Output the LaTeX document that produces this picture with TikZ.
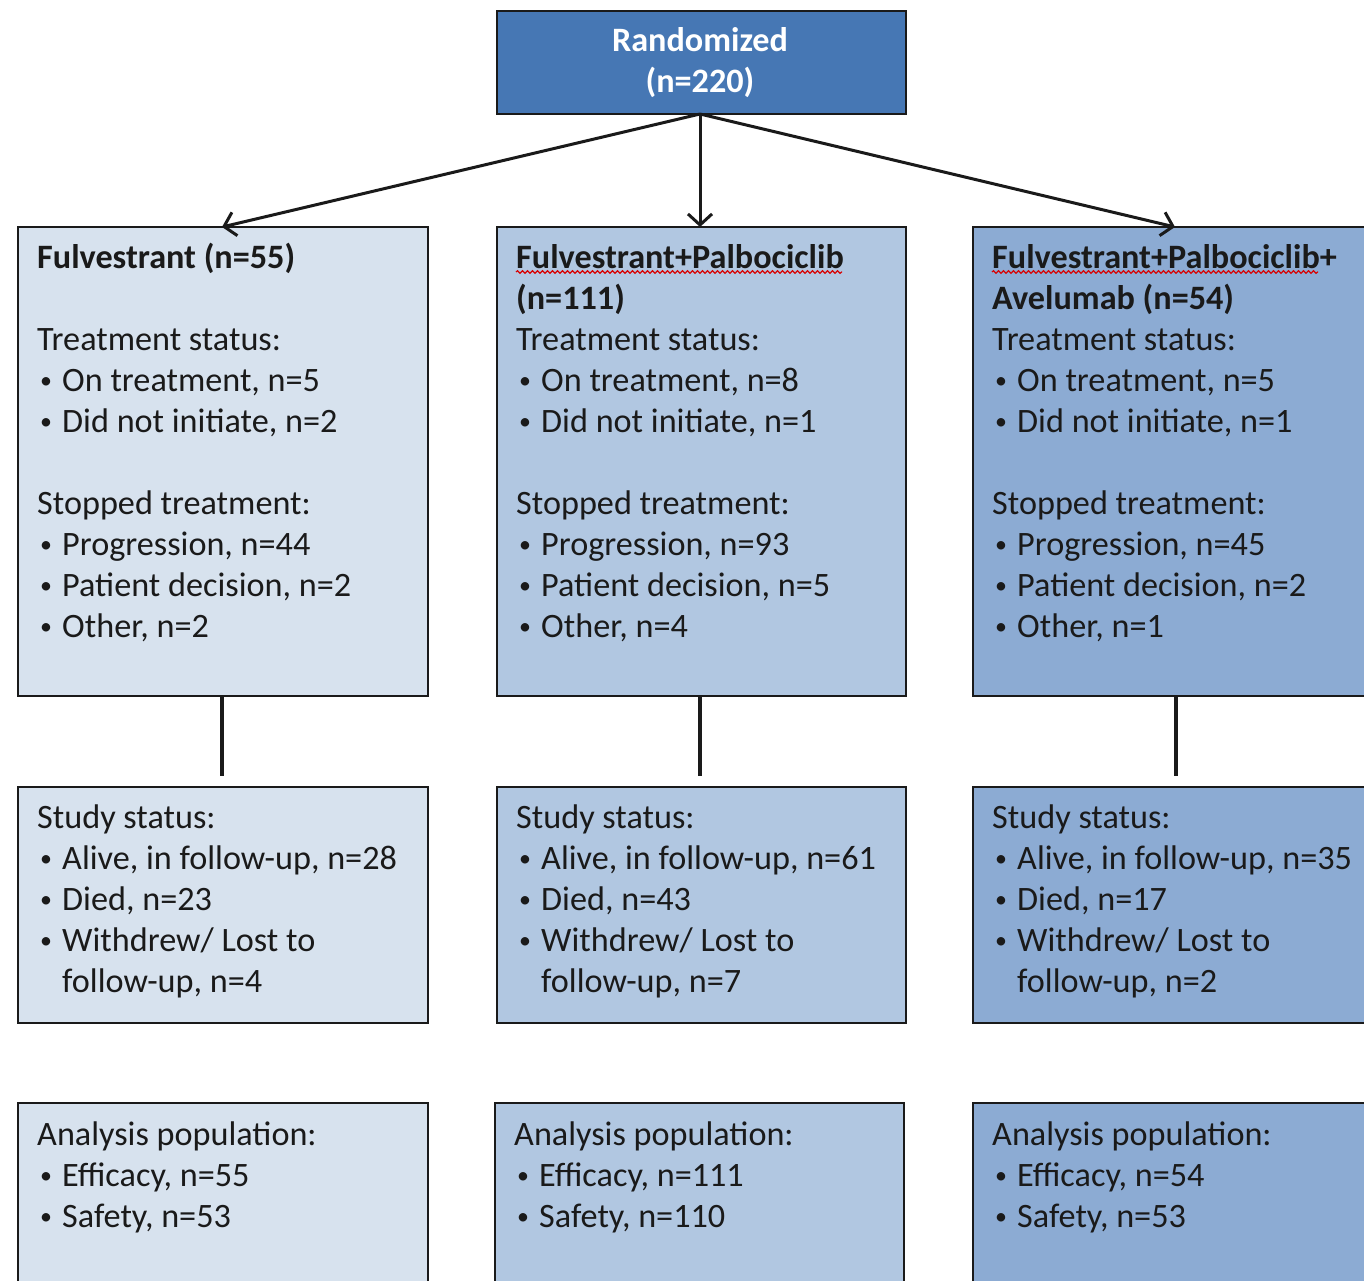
\documentclass[tikz,border=0pt]{standalone}
\usepackage{fontspec}
\setmainfont{Carlito}
\usetikzlibrary{arrows.meta,decorations.pathmorphing}
\definecolor{topfill}{HTML}{4677B4}
\definecolor{cA}{HTML}{D7E2EE}
\definecolor{cB}{HTML}{B1C7E1}
\definecolor{cC}{HTML}{8CABD3}
\definecolor{ink}{HTML}{1A1A1A}
\tikzset{
  box/.style={draw=ink, line width=2pt},
  tl/.style={anchor=base west, inner sep=0pt, text=ink, font=\fontsize{34.2}{41}\selectfont},
  bt/.style={tl, font=\fontsize{34.2}{41}\bfseries\selectfont},
  conn/.style={draw=ink, line width=3.4pt},
  arr/.style={draw=ink, line width=3pt, -{Straight Barb[length=11pt,width=24pt,line width=3pt]}},
  squig/.style={draw=red!85!black, line width=1.2pt, decorate, decoration={snake, amplitude=1.3pt, segment length=5pt}}
}
\newcommand\bul{\makebox[25pt][l]{\hspace*{3pt}\raisebox{3pt}{\scalebox{0.7}{•}}}}
\begin{document}
\begin{tikzpicture}[x=1pt,y=-1pt]
\useasboundingbox (0,0) rectangle (1364,1281);
\clip (0,0) rectangle (1364,1281);
% boxes
\path[box, fill=topfill] (497,11) rectangle (906,114);
\node[font=\fontsize{34.2}{41}\bfseries\selectfont, text=white, anchor=base, inner sep=0pt] (r1) at (700,52) {Randomized};
\node[font=\fontsize{34.2}{41}\bfseries\selectfont, text=white, anchor=base, inner sep=0pt] (r2) at (700,93) {(n=220)};
\coordinate (rb) at (700,114);

\path[box, fill=cA] (18,227) rectangle (428,696);
\path[box, fill=cB] (497,227) rectangle (906,696);
\path[box, fill=cC] (973,227) rectangle (1380,696);
\path[box, fill=cA] (18,787) rectangle (428,1023);
\path[box, fill=cB] (497,787) rectangle (906,1023);
\path[box, fill=cC] (973,787) rectangle (1380,1023);
\path[box, fill=cA] (18,1103) rectangle (428,1295);
\path[box, fill=cB] (495,1103) rectangle (904,1295);
\path[box, fill=cC] (973,1103) rectangle (1380,1295);

\coordinate (aT) at (222,227);
\coordinate (bT) at (700,227);
\coordinate (cT) at (1175,227);
\coordinate (aB) at (222,696);
\coordinate (bB) at (700,696);
\coordinate (cB) at (1176,696);
\coordinate (aE) at (222,776);
\coordinate (bE) at (700,776);
\coordinate (cE) at (1176,776);

\draw[arr] (rb) -- (aT);
\draw[arr] (rb) -- (bT);
\draw[arr] (rb) -- (cT);
\draw[conn] (aB) -- (aE);
\draw[conn] (bB) -- (bE);
\draw[conn] (cB) -- (cE);

% column A text
\node[bt] (a1) at (37,268) {Fulvestrant (n=55)};
\node[tl] (a3) at (37,350) {Treatment status:};
\node[tl] (a4) at (37,391) {\bul On treatment, n=5};
\node[tl] (a5) at (37,432) {\bul Did not initiate, n=2};
\node[tl] (a7) at (37,514) {Stopped treatment:};
\node[tl] (a8) at (37,555) {\bul Progression, n=44};
\node[tl] (a9) at (37,596) {\bul Patient decision, n=2};
\node[tl] (a10) at (37,637) {\bul Other, n=2};
\node[tl] (as1) at (37,828) {Study status:};
\node[tl] (as2) at (37,869) {\bul Alive, in follow-up, n=28};
\node[tl] (as3) at (37,910) {\bul Died, n=23};
\node[tl] (as4) at (37,951) {\bul Withdrew/ Lost to};
\node[tl] (as5) at (37,992) {\hspace*{25pt}follow-up, n=4};
\node[tl] (ap1) at (37,1145) {Analysis population:};
\node[tl] (ap2) at (37,1186) {\bul Efficacy, n=55};
\node[tl] (ap3) at (37,1227) {\bul Safety, n=53};

% column B text
\node[bt] (b1) at (516,268) {Fulvestrant+Palbociclib};
\node[bt] (b2) at (516,309) {(n=111)};
\node[tl] (b3) at (516,350) {Treatment status:};
\node[tl] (b4) at (516,391) {\bul On treatment, n=8};
\node[tl] (b5) at (516,432) {\bul Did not initiate, n=1};
\node[tl] (b7) at (516,514) {Stopped treatment:};
\node[tl] (b8) at (516,555) {\bul Progression, n=93};
\node[tl] (b9) at (516,596) {\bul Patient decision, n=5};
\node[tl] (b10) at (516,637) {\bul Other, n=4};
\node[tl] (bs1) at (516,828) {Study status:};
\node[tl] (bs2) at (516,869) {\bul Alive, in follow-up, n=61};
\node[tl] (bs3) at (516,910) {\bul Died, n=43};
\node[tl] (bs4) at (516,951) {\bul Withdrew/ Lost to};
\node[tl] (bs5) at (516,992) {\hspace*{25pt}follow-up, n=7};
\node[tl] (bp1) at (514,1145) {Analysis population:};
\node[tl] (bp2) at (514,1186) {\bul Efficacy, n=111};
\node[tl] (bp3) at (514,1227) {\bul Safety, n=110};
\draw[squig] (b1.base west) ++(0,4) -- ++(326,0);

% column C text
\node[bt] (c1) at (992,268) {Fulvestrant+Palbociclib+};
\node[bt] (c2) at (992,309) {Avelumab (n=54)};
\node[tl] (c3) at (992,350) {Treatment status:};
\node[tl] (c4) at (992,391) {\bul On treatment, n=5};
\node[tl] (c5) at (992,432) {\bul Did not initiate, n=1};
\node[tl] (c7) at (992,514) {Stopped treatment:};
\node[tl] (c8) at (992,555) {\bul Progression, n=45};
\node[tl] (c9) at (992,596) {\bul Patient decision, n=2};
\node[tl] (c10) at (992,637) {\bul Other, n=1};
\node[tl] (cs1) at (992,828) {Study status:};
\node[tl] (cs2) at (992,869) {\bul Alive, in follow-up, n=35};
\node[tl] (cs3) at (992,910) {\bul Died, n=17};
\node[tl] (cs4) at (992,951) {\bul Withdrew/ Lost to};
\node[tl] (cs5) at (992,992) {\hspace*{25pt}follow-up, n=2};
\node[tl] (cp1) at (992,1145) {Analysis population:};
\node[tl] (cp2) at (992,1186) {\bul Efficacy, n=54};
\node[tl] (cp3) at (992,1227) {\bul Safety, n=53};
\draw[squig] (c1.base west) ++(0,4) -- ++(326,0);
\end{tikzpicture}
\end{document}
